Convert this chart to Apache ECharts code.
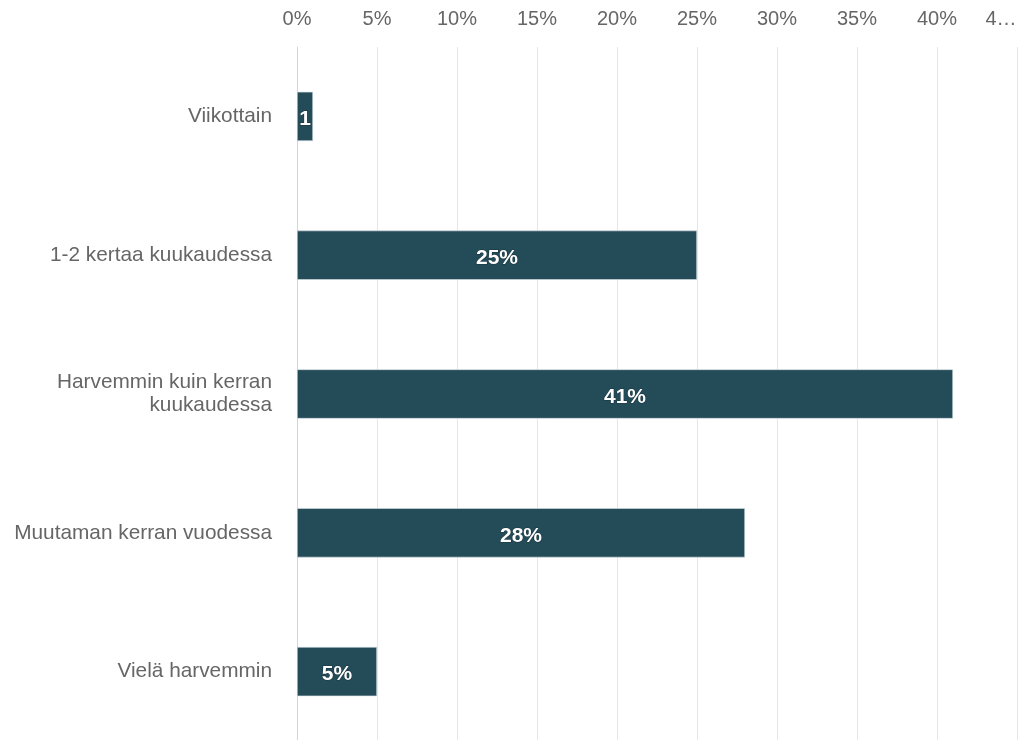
<!DOCTYPE html>
<html>
<head>
<meta charset="utf-8">
<script src="https://cdn.jsdelivr.net/npm/echarts@6/dist/echarts.min.js"></script>
<style>
  html, body { margin: 0; padding: 0; background: #ffffff; overflow: hidden; }
  #chart { width: 1024px; height: 740px; }
</style>
</head>
<body>
<div id="chart"></div>
<script>
// Vastausvaihtoehdot (ylhäältä alas) ja osuudet prosentteina
const categories = [
  'Viikottain',
  '1-2 kertaa kuukaudessa',
  'Harvemmin kuin kerran\nkuukaudessa',
  'Muutaman kerran vuodessa',
  'Vielä harvemmin'
];
const shares = [1, 25, 41, 28, 5];
const axisMax = 45;
const axisStep = 5;

const FONT = '"Liberation Sans", Arial, Helvetica, sans-serif';
const BAR = '#234b58';

const chart = echarts.init(document.getElementById('chart'), null, { renderer: 'canvas' });

function buildData(widths) {
  return shares.map((v, i) => {
    const item = { value: v };
    if (widths) {
      // label is clipped to roughly the bar's own width
      item.label = { width: widths[i] + 3, overflow: 'truncate', ellipsis: '' };
    }
    return item;
  });
}

chart.setOption({
  animation: false,
  grid: {
    left: 297, right: 7, top: 47, height: 694,
    containLabel: false,
    outerBoundsMode: 'none'
  },
  xAxis: {
    type: 'value',
    position: 'top',
    min: 0,
    max: axisMax,
    interval: axisStep,
    axisLine: { show: false },
    axisTick: { show: false },
    splitLine: { show: true, lineStyle: { color: '#e6e6e6', width: 1 } },
    axisLabel: {
      margin: 18,
      color: '#666666',
      fontFamily: FONT,
      fontSize: 20,
      formatter: function (v) {
        // the last tick label does not fit at the edge and is shortened
        return v === axisMax ? '{last|' + String(v).charAt(0) + '…}' : v + '%';
      },
      rich: {
        last: { color: '#666666', fontFamily: FONT, fontSize: 20, padding: [0, 32, 0, 0] }
      }
    }
  },
  yAxis: {
    type: 'category',
    inverse: true,
    data: categories,
    axisLine: { show: true, lineStyle: { color: '#ccd6eb', width: 1 } },
    axisTick: { show: false },
    splitLine: { show: false },
    axisLabel: {
      margin: 25,
      color: '#666666',
      fontFamily: FONT,
      fontSize: 20.8,
      lineHeight: 23,
      align: 'right',
      verticalAlign: 'middle'
    }
  },
  series: [{
    type: 'bar',
    data: buildData(null),
    barWidth: '35.5%',
    itemStyle: { color: BAR, borderColor: '#d7e0e6', borderWidth: 0.6 },
    label: {
      show: true,
      position: 'inside',
      offset: [0, 3],
      formatter: '{c}%',
      color: '#ffffff',
      fontFamily: FONT,
      fontWeight: 'bold',
      fontSize: 21,
      textBorderColor: 'rgba(0,0,0,0.3)',
      textBorderWidth: 1
    }
  }]
});

// bar widths in pixels
const x0 = chart.convertToPixel({ xAxisIndex: 0 }, 0);
const widths = shares.map(v => Math.max(0, chart.convertToPixel({ xAxisIndex: 0 }, v) - x0));
chart.setOption({ series: [{ data: buildData(widths) }] });
</script>
</body>
</html>
